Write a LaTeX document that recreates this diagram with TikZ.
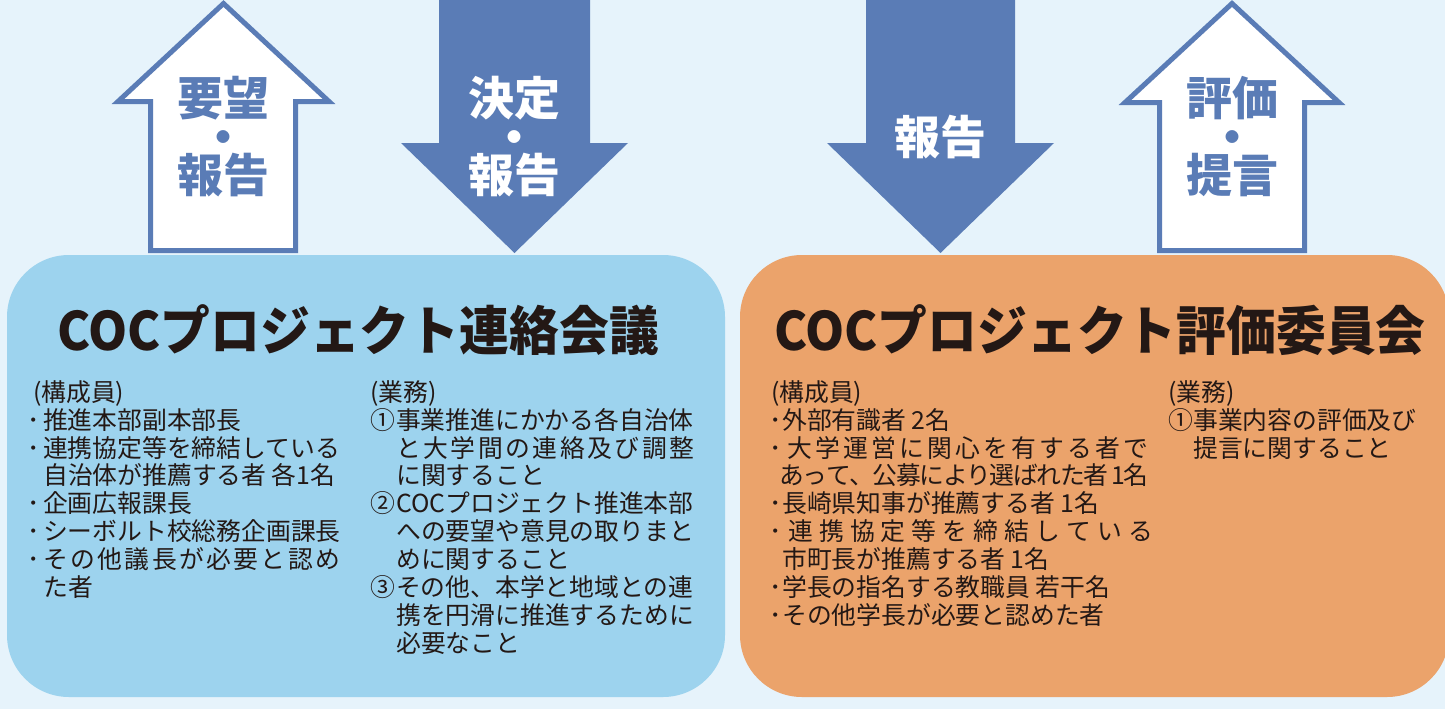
\documentclass[tikz,border=0pt]{standalone}
\usepackage{fontspec}
\newfontfamily\jp{Noto Sans CJK JP}
\IfFontExistsTF{Noto Sans CJK JP Black}{\newfontfamily\jpheavy{Noto Sans CJK JP Black}}{\newcommand\jpheavy{\jp\bfseries}}
\definecolor{bg}{HTML}{E6F3FB}
\definecolor{lbox}{HTML}{9DD3EE}
\definecolor{obox}{HTML}{EBA36B}
\definecolor{arr}{HTML}{5A7CB6}
\definecolor{ink}{HTML}{231815}
% spread characters of #2 over width #1
\newcommand\sprA[1]{#1\sprB}
\newcommand\sprB[1]{\ifx\relax#1\else\hss#1\expandafter\sprB\fi}
\newcommand\spr[2]{\hbox to #1{\sprA#2\relax}}
\newcommand\bul[1]{\makebox[#1][l]{･}}
\newcommand\jl[1]{\hbox{#1}}
\newcommand\col[1]{\vtop{\baselineskip=27.85pt\lineskiplimit=-1000pt\lineskip=0pt #1}}
\newcommand\three[3]{\vtop{\baselineskip=38.5pt\lineskiplimit=-1000pt\lineskip=0pt
  \hbox to 120pt{\hss #1\hss}\hbox to 120pt{\hss #2\hss}\hbox to 120pt{\hss #3\hss}}}
\begin{document}
\begin{tikzpicture}[x=1pt,y=-1pt,
  panel/.style={rounded corners=62pt},
  uparrow/.style={draw=arr, line width=5pt, fill=white, line join=miter},
  downarrow/.style={fill=arr},
  body/.style={anchor=base west, inner sep=0pt, text=ink, font=\jp\fontsize{24.8pt}{27.85pt}\selectfont},
  title/.style={anchor=base, inner sep=0pt, text=ink, font=\jpheavy\fontsize{53pt}{60pt}\selectfont},
  albl/.style={anchor=base, inner sep=0pt, font=\jpheavy\fontsize{46pt}{50pt}\selectfont}]
\useasboundingbox (0,0) rectangle (1445,709);
\fill[bg] (0,0) rectangle (1445,709);
% panels
\fill[lbox, panel] (7,255) rectangle (725,697);
\fill[obox, panel] (740,255) rectangle (1449,697);
% arrows
\draw[uparrow] (223.5,3.5) -- (118,101.5) -- (150.5,101.5) -- (150.5,250.5) -- (295.5,250.5) -- (295.5,101.5) -- (329,101.5) -- cycle;
\fill[downarrow] (439,-2) -- (590,-2) -- (590,143) -- (628,143) -- (514.5,253) -- (401,143) -- (439,143) -- cycle;
\fill[downarrow] (866,-2) -- (1015,-2) -- (1015,143) -- (1054,143) -- (940.5,253) -- (827,143) -- (866,143) -- cycle;
\draw[uparrow] (1232,3.5) -- (1125,102.5) -- (1159.5,102.5) -- (1159.5,250.5) -- (1304.5,250.5) -- (1304.5,102.5) -- (1339,102.5) -- cycle;
% arrow labels
\node[albl, text=arr] (lab1) at (223.5,115.5) {\three{要望}{・}{報告}};
\node[albl, text=white] (lab2) at (514.5,115.5) {\three{決定}{・}{報告}};
\node[albl, text=white] (lab3) at (940.5,154.5) {報告};
\node[albl, text=arr] (lab4) at (1232,115.5) {\three{評価}{・}{提言}};
% titles
\node[title] (t1) at (358,350.8) {\scalebox{0.94}[1]{COCプロジェクト連絡会議}};
\node[title] (t2) at (1100,350.8) {\scalebox{0.94}[1]{COCプロジェクト評価委員会}};
% left panel texts
\node[body] (c1) at (27,401.4) {\col{%
\jl{\hspace*{6pt}(構成員)}
\jl{\bul{16pt}推進本部副本部長}
\jl{\bul{16pt}連携協定等を締結している}
\jl{\hspace*{16pt}自治体が推薦する者 各1名}
\jl{\bul{16pt}企画広報課長}
\jl{\bul{16pt}シーボルト校総務企画課長}
\jl{\bul{16pt}\spr{297pt}{その他議長が必要と認め}}
\jl{\hspace*{16pt}た者}}};
\node[body] (c2) at (370,401.4) {\col{%
\jl{(業務)}
\jl{\makebox[26pt][l]{①}事業推進にかかる各自治体}
\jl{\hspace*{26pt}\spr{298pt}{と大学間の連絡及び調整}}
\jl{\hspace*{26pt}に関すること}
\jl{\makebox[26pt][l]{②}COCプロジェクト推進本部}
\jl{\hspace*{26pt}への要望や意見の取りまと}
\jl{\hspace*{26pt}めに関すること}
\jl{\makebox[26pt][l]{③}その他、本学と地域との連}
\jl{\hspace*{26pt}携を円滑に推進するために}
\jl{\hspace*{26pt}必要なこと}}};
% right panel texts
\node[body] (c3) at (769,401.4) {\col{%
\jl{\hspace*{2pt}(構成員)}
\jl{\bul{13pt}外部有識者 2名}
\jl{\bul{18pt}\spr{361pt}{大学運営に関心を有する者で}}
\jl{\hspace*{10pt}\spr{369pt}{あって、公募により選ばれた者~1名}}
\jl{\bul{13pt}長崎県知事が推薦する者 1名}
\jl{\bul{19pt}\spr{365pt}{連携協定等を締結している}}
\jl{\hspace*{13pt}市町長が推薦する者 1名}
\jl{\bul{13pt}学長の指名する教職員 若干名}
\jl{\bul{13pt}その他学長が必要と認めた者}}};
\node[body] (c4) at (1168,401.4) {\col{%
\jl{(業務)}
\jl{\makebox[25pt][l]{①}事業内容の評価及び}
\jl{\hspace*{25pt}提言に関すること}}};
\end{tikzpicture}
\end{document}
